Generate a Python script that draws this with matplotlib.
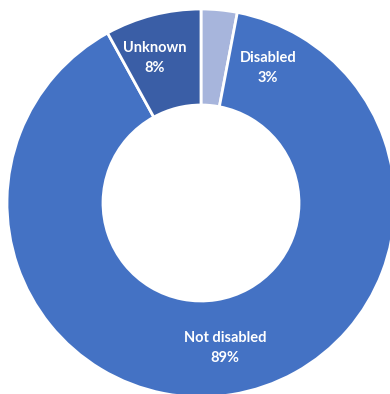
import matplotlib.pyplot as plt

# Share of respondents by disability status
categories = ["Disabled", "Not disabled", "Unknown"]
shares = [3, 89, 8]
colors = ["#A7B5DC", "#4472C4", "#3A5EA6"]

# label anchor points (pixel-like data units, centre of the ring at 0,0)
label_pos = {"Disabled": (67, 135), "Not disabled": (24, -145), "Unknown": (-46, 145)}

fig = plt.figure(figsize=(3.90, 3.94), dpi=100)
ax = fig.add_axes([0, 0, 1, 1])

ax.pie(shares, colors=colors, startangle=90, counterclock=False, radius=194,
       wedgeprops=dict(width=96, edgecolor="white", linewidth=2))

for cat, val in zip(categories, shares):
    x, y = label_pos[cat]
    ax.text(x, y, f"{cat}\n{val}%", ha="center", va="center", color="white",
            fontsize=10.5, fontweight="bold", family="Lato", linespacing=1.5)

ax.set_xlim(-201, 189)
ax.set_ylim(-191, 203)
ax.set_aspect("equal")
ax.axis("off")

plt.savefig("out.png", dpi=100)
